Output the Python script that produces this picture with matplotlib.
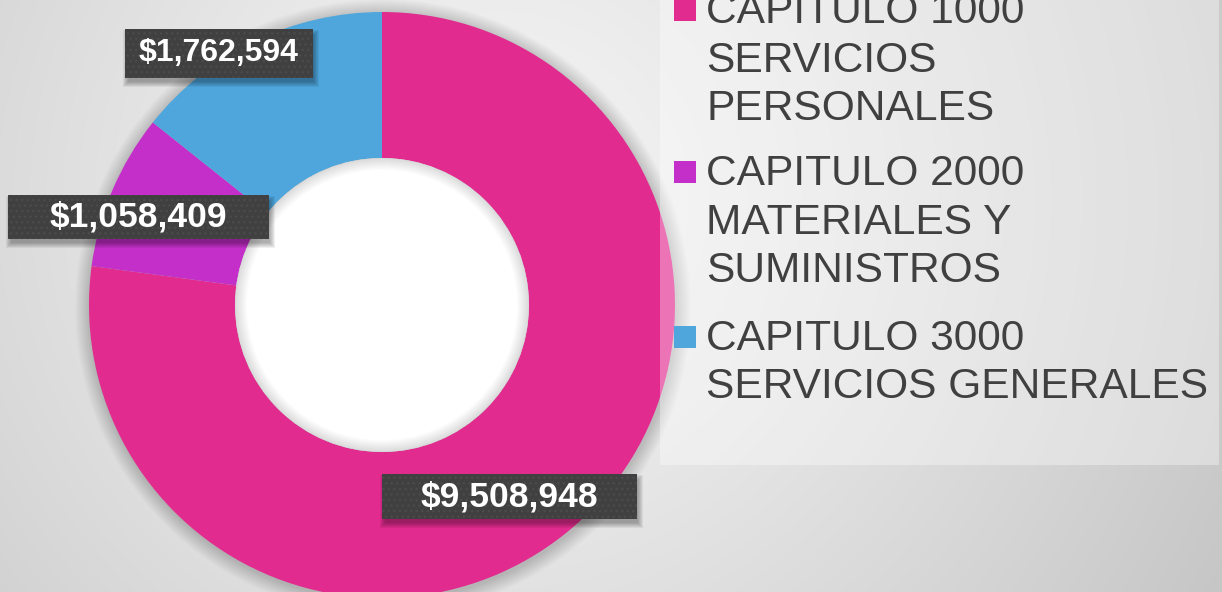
import numpy as np
import matplotlib
matplotlib.use("Agg")
import matplotlib.pyplot as plt
from matplotlib.patches import Rectangle, Circle, Wedge

# ---- data ----
categories = ["CAPITULO 1000\nSERVICIOS\nPERSONALES",
              "CAPITULO 2000\nMATERIALES Y\nSUMINISTROS",
              "CAPITULO 3000\nSERVICIOS GENERALES"]
values = [9508948, 1058409, 1762594]
value_labels = ["$9,508,948", "$1,058,409", "$1,762,594"]
colors = ["#E22B8F", "#C42FC9", "#4EA6DC"]

W, H = 1222, 592
fig = plt.figure(figsize=(W / 100, H / 100), dpi=100)
ax = fig.add_axes([0, 0, 1, 1])

# background gradient
yy, xx = np.mgrid[0:H, 0:W]
d = np.hypot(xx - 500, yy - 200)
v = 0.96 - 0.184 * (d / 821) ** 1.22
img = np.dstack([v, v, v])
ax.imshow(img, extent=(0, W, 0, H), origin="upper", zorder=0, aspect="auto")

cx, cy = 382, H - 305
R, r_in = 293, 147

# outer soft shadow
for i in range(1, 16):
    ax.add_patch(Circle((cx + 1, cy - 2), R + i, facecolor="black", alpha=0.012,
                        linewidth=0, zorder=1))

ax.pie(values, colors=colors, startangle=90, counterclock=False, radius=R,
       center=(cx, cy), wedgeprops=dict(width=R - r_in, linewidth=0, zorder=2))

# hole with inner shadow
ax.add_patch(Circle((cx, cy), r_in, facecolor="white", linewidth=0, zorder=3))
for i in range(1, 13):
    ax.add_patch(Wedge((cx, cy), r_in, 0, 360, width=i, facecolor="black",
                       alpha=0.012, linewidth=0, zorder=3))

# translucent legend panel
ax.add_patch(Rectangle((660, H - 465), 1219 - 660, 465, facecolor="white",
                       alpha=0.35, linewidth=0, zorder=4))

# legend entries
first_baselines = [23, 185, 350]
line_gap = 48.5
for lab, col, b0 in zip(categories, colors, first_baselines):
    ax.add_patch(Rectangle((674, H - (b0 - 13) - 11), 22, 22, facecolor=col,
                           linewidth=0, zorder=5))
    for j, line in enumerate(lab.split("\n")):
        ax.text(706, H - (b0 + j * line_gap), line, ha="left", va="baseline",
                fontsize=30.6, color="#404040", family="Liberation Sans", zorder=6)

# data labels
label_pos = [(509.5, 496.5), (138.5, 217), (219, 53.5)]
label_size = [(255, 45), (261, 44), (188, 49)]
label_font = [25.5, 25.5, 23]
for txt, (lx, ly), (bw, bh), fs in zip(value_labels, label_pos, label_size, label_font):
    y = H - ly
    # soft drop shadow
    for k in range(6):
        g = 1 + k
        ax.add_patch(Rectangle((lx - bw / 2 + 4 - g, y - bh / 2 - 5 - g + 2),
                               bw + 2 * g - 4, bh + 2 * g - 4, facecolor="black",
                               alpha=0.06, linewidth=0, zorder=6.9))
    ax.add_patch(Rectangle((lx - bw / 2, y - bh / 2), bw, bh, facecolor="#404040",
                           linewidth=0, zorder=7))
    ax.add_patch(Rectangle((lx - bw / 2, y - bh / 2), bw, bh, fill=False,
                           hatch="...", edgecolor="#4b4b4b", linewidth=0, zorder=7.5))
    ax.text(lx, y, txt, ha="center", va="center", fontsize=fs, color="white",
            fontweight="bold", family="Liberation Sans", zorder=8)

ax.set_xlim(0, W)
ax.set_ylim(0, H)
ax.set_aspect("auto")
ax.set_axis_off()

fig.savefig("out.png", dpi=100)
